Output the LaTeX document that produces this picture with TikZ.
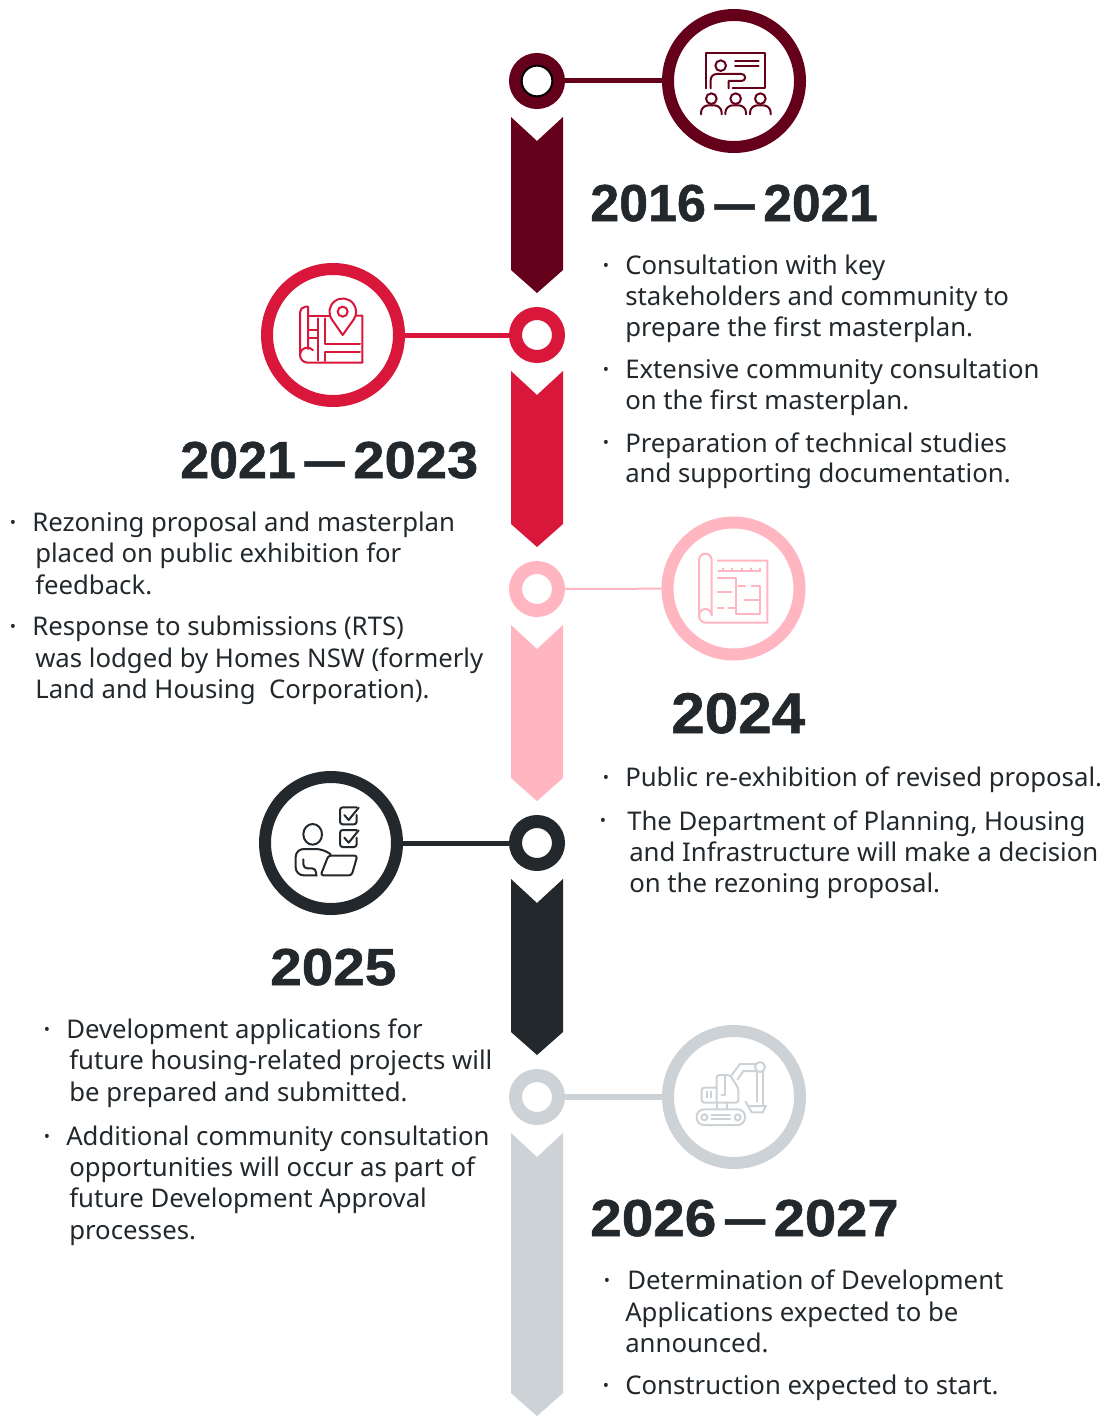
\documentclass[tikz,border=0pt]{standalone}
\usepackage{fontspec}
\setmainfont{Noto Sans}
\newfontfamily\hdfont[FakeBold=1]{Liberation Sans Bold}
\definecolor{maroon}{HTML}{64001A}
\definecolor{crimson}{HTML}{D9173B}
\definecolor{blush}{HTML}{FFB6C1}
\definecolor{ink}{HTML}{22282C}
\definecolor{mist}{HTML}{CDD2D6}
\tikzset{
  bigring/.style={circle,draw=#1,line width=9pt,minimum size=99pt,inner sep=0pt,fill=white},
  dotring/.style={circle,draw=#1,line width=9.75pt,minimum size=32.25pt,inner sep=0pt,fill=white},
  linkline/.style={draw=#1,line width=3.75pt},
  bodyline/.style={anchor=base west,inner sep=0pt,text=ink,font=\fontsize{19.3pt}{23pt}\selectfont},
  bulletmark/.style={anchor=center,inner sep=0pt,text=ink,yshift=-1.8pt,font=\fontsize{12.5pt}{14pt}\selectfont},
  heading/.style={anchor=base west,inner sep=0pt,text=ink,font=\hdfont\fontsize{39pt}{44pt}\selectfont},
  zoomed/.style 2 args={x=0.25pt,y=-0.25pt,shift={(#1*3,#2*3)},line width=1.5pt,line cap=round,line join=round},
}
\newcommand{\chev}[2]{\fill[#1] (511,#2) -- (537,#2+24) -- (563,#2) -- (563,#2+153) -- (537,#2+176) -- (511,#2+153) -- cycle;}
\newcommand{\tl}[4]{\node[bodyline] (#1) at (#2,#3) {#4};}
\newcommand{\bm}[3]{\node[bulletmark] (#1) at (#2,#3) {•};}
\newcommand{\yr}[2]{\scalebox{#1}[1]{#2}}
\newcommand{\dashpart}{\hspace{6.5pt}\scalebox{.77}[1]{—}\hspace{6.5pt}}
\begin{document}
\begin{tikzpicture}[x=0.75pt,y=-0.75pt]
\useasboundingbox (0,0) rectangle (1111,1416);
% chevrons
\chev{maroon}{117}
\chev{crimson}{371}
\chev{blush}{625}
\chev{ink}{879}
\fill[mist] (511,1133) -- (537,1157) -- (563,1133) -- (563,1393) -- (537,1416) -- (511,1393) -- cycle;
% rings
\node[bigring=maroon] (big1) at (734,81) {};
\node[bigring=crimson] (big2) at (333,335) {};
\node[bigring=blush] (big3) at (733.5,588.5) {};
\node[bigring=ink] (big4) at (331,843) {};
\node[bigring=mist] (big5) at (734,1097) {};
\node[dotring=maroon] (dot1) at (537,81) {};
\node[dotring=crimson] (dot2) at (537,335) {};
\node[dotring=blush] (dot3) at (537,589) {};
\node[dotring=ink] (dot4) at (537,843) {};
\node[dotring=mist] (dot5) at (537,1097) {};
\node[circle,draw=black,fill=white,line width=1.5pt,minimum size=23pt,inner sep=0pt] (core1) at (537,81) {};
\draw[linkline=maroon] (dot1) -- (big1);
\draw[linkline=crimson] (dot2) -- (big2);
\draw[linkline=blush,line width=1.5pt] (dot3) -- (big3);
\draw[linkline=ink] (dot4) -- (big4);
\draw[linkline=mist,line width=4.5pt] (dot5) -- (big5);
% icon 1: presentation
\begin{scope}[zoomed={490}{0},draw=maroon]
\draw (648,265) -- (648,160) -- (826,160) -- (826,265) -- (728,265);
\draw (735,184) -- (806,184) (735,199) -- (806,199);
\draw (692,197) circle (16);
\draw (662,265) -- (662,240) arc (-180:-90:18) -- (755,222) arc (-90:90:10.5) -- (716,243) -- (716,265);
\foreach \c in {664,737,811}{
  \draw (\c,296) circle (16);
  \draw (\c-31,343) -- (\c-31,338) arc (-180:-90:22) -- (\c+9,316) arc (-90:0:22) -- (\c+31,343);
}
\end{scope}
% icon 2: map
\begin{scope}[zoomed={250}{255},draw=crimson]
\draw (150,300) -- (150,172) arc (-180:-90:17) -- (174,155) -- (174,282);
\draw (150,300) arc (-180:-40:22);
\draw (150,300) arc (180:90:23) -- (337,323) -- (337,182) -- (318,182);
\draw (174,182) -- (240,182);
\draw (278,240) -- (246,194) arc (-216:36:40) -- cycle;
\draw (278,170) circle (15);
\draw (203,190) -- (203,316);
\draw (225,190) -- (225,268) -- (330,268);
\draw (225,318) -- (225,290) -- (330,290);
\draw (178,225) -- (203,225) (178,250) -- (203,250);
\end{scope}
% icon 3: plan
\begin{scope}[zoomed={655}{510},draw=blush]
\draw (132,318) -- (132,150) arc (-180:0:19) -- (170,316);
\draw (132,318) arc (180:90:20) -- (337,338) -- (337,152) -- (188,152);
\draw (170,316) arc (0:-200:19);
\draw (190,183) -- (315,183);
\foreach \t in {205,232,260,287,315}{\draw (\t,175) -- (\t,183);}
\draw (188,205) -- (243,205) -- (243,312) -- (315,312) -- (315,228) -- (290,228);
\draw (250,228) -- (270,228) (268,270) -- (315,270);
\draw (188,247) -- (228,247) (188,294) -- (205,294) (220,294) -- (243,294);
\end{scope}
% icon 4: laptop
\begin{scope}[zoomed={250}{765},draw=ink]
\draw[rounded corners=2pt] (320,150) -- (320,178) -- (270,178) -- (270,127) -- (320,127);
\draw (283,150) -- (296,165) -- (326,128);
\draw[rounded corners=2pt] (320,218) -- (320,246) -- (270,246) -- (270,195) -- (320,195);
\draw (283,218) -- (296,233) -- (326,196);
\draw (188,208) ellipse (28 and 31);
\draw[rounded corners=6pt] (200,331) -- (137,331) -- (137,252) -- (222,252) -- (242,268);
\draw[rounded corners=3pt] (160,283) -- (160,310) -- (198,310) -- (198,331);
\draw[rounded corners=2pt] (212,331) -- (235,272) -- (322,272) -- (305,331) -- cycle;
\end{scope}
% icon 5: excavator
\begin{scope}[zoomed={655}{1020},draw=mist]
\draw[rounded corners=5.5pt] (125,268) rectangle (270,315);
\draw (148,292) circle (9) (248,292) circle (9);
\draw (170,285) -- (225,285) (170,298) -- (225,298);
\draw[rounded corners=2pt] (185,203) -- (140,203) -- (140,248) -- (250,248) -- (250,205) -- (225,165) -- (185,165) -- (185,248);
\draw (155,215) -- (155,232) (168,215) -- (168,232);
\draw (210,165) -- (210,225) -- (200,225);
\draw (185,248) -- (185,268) (215,248) -- (215,268);
\draw (230,165) -- (255,132) -- (303,132) (248,178) -- (265,153) -- (303,153);
\draw (315,141) circle (15);
\draw (305,155) -- (305,245) (325,155) -- (325,255);
\draw (272,245) -- (290,277) -- (323,277) -- (333,258) -- (285,258);
\end{scope}
% headings
\node[heading] (h1) at (590,221) {\yr{1}{2016}\dashpart\yr{.99}{2021}};
\node[heading] (h2) at (180,478) {\yr{1}{2021}\dashpart\yr{1.08}{2023}};
\node[heading,font=\hdfont\fontsize{43pt}{46pt}\selectfont] (h3) at (671,733) {\yr{1.05}{2024}};
\node[heading] (h4) at (270,985) {\yr{1.09}{2025}};
\node[heading] (h5) at (590,1236) {\yr{1.09}{2026}\dashpart\yr{1.08}{2027}};
% block 1
\bm{b1}{606}{265} \tl{l1}{625}{274}{Consultation with key}
\tl{l2}{625}{305}{stakeholders and community to}
\tl{l3}{625}{336}{prepare the first masterplan.}
\bm{b2}{606}{369} \tl{l4}{625}{378}{Extensive community consultation}
\tl{l5}{625}{409}{on the first masterplan.}
\bm{b3}{606}{442} \tl{l6}{625}{452}{Preparation of technical studies}
\tl{l7}{625}{482}{and supporting documentation.}
% block 2
\bm{b4}{13}{522} \tl{l8}{32}{531}{Rezoning proposal and masterplan}
\tl{l9}{35}{562}{placed on public exhibition for}
\tl{l10}{35}{594}{feedback.}
\bm{b5}{13}{626} \tl{l11}{32}{635}{Response to submissions (RTS)}
\tl{l12}{35}{667}{was lodged by Homes NSW (formerly}
\tl{l13}{35}{698}{Land and Housing\ \ Corporation).}
% block 3
\bm{b6}{606}{777} \tl{l14}{625}{786}{Public re-exhibition of revised proposal.}
\bm{b7}{603}{820} \tl{l15}{627}{830}{The Department of Planning, Housing}
\tl{l16}{629}{861}{and Infrastructure will make a decision}
\tl{l17}{629}{892}{on the rezoning proposal.}
% block 4
\bm{b8}{47}{1029} \tl{l18}{66}{1038}{Development applications for}
\tl{l19}{69}{1069}{future housing-related projects will}
\tl{l20}{69}{1101}{be prepared and submitted.}
\bm{b9}{47}{1136} \tl{l21}{66}{1145}{Additional community consultation}
\tl{l22}{69}{1176}{opportunities will occur as part of}
\tl{l23}{69}{1207}{future Development Approval}
\tl{l24}{69}{1239}{processes.}
% block 5
\bm{b10}{607}{1280} \tl{l25}{627}{1289}{Determination of Development}
\tl{l26}{625}{1321}{Applications expected to be}
\tl{l27}{625}{1352}{announced.}
\bm{b11}{606}{1385} \tl{l28}{625}{1394}{Construction expected to start.}
\end{tikzpicture}
\end{document}
